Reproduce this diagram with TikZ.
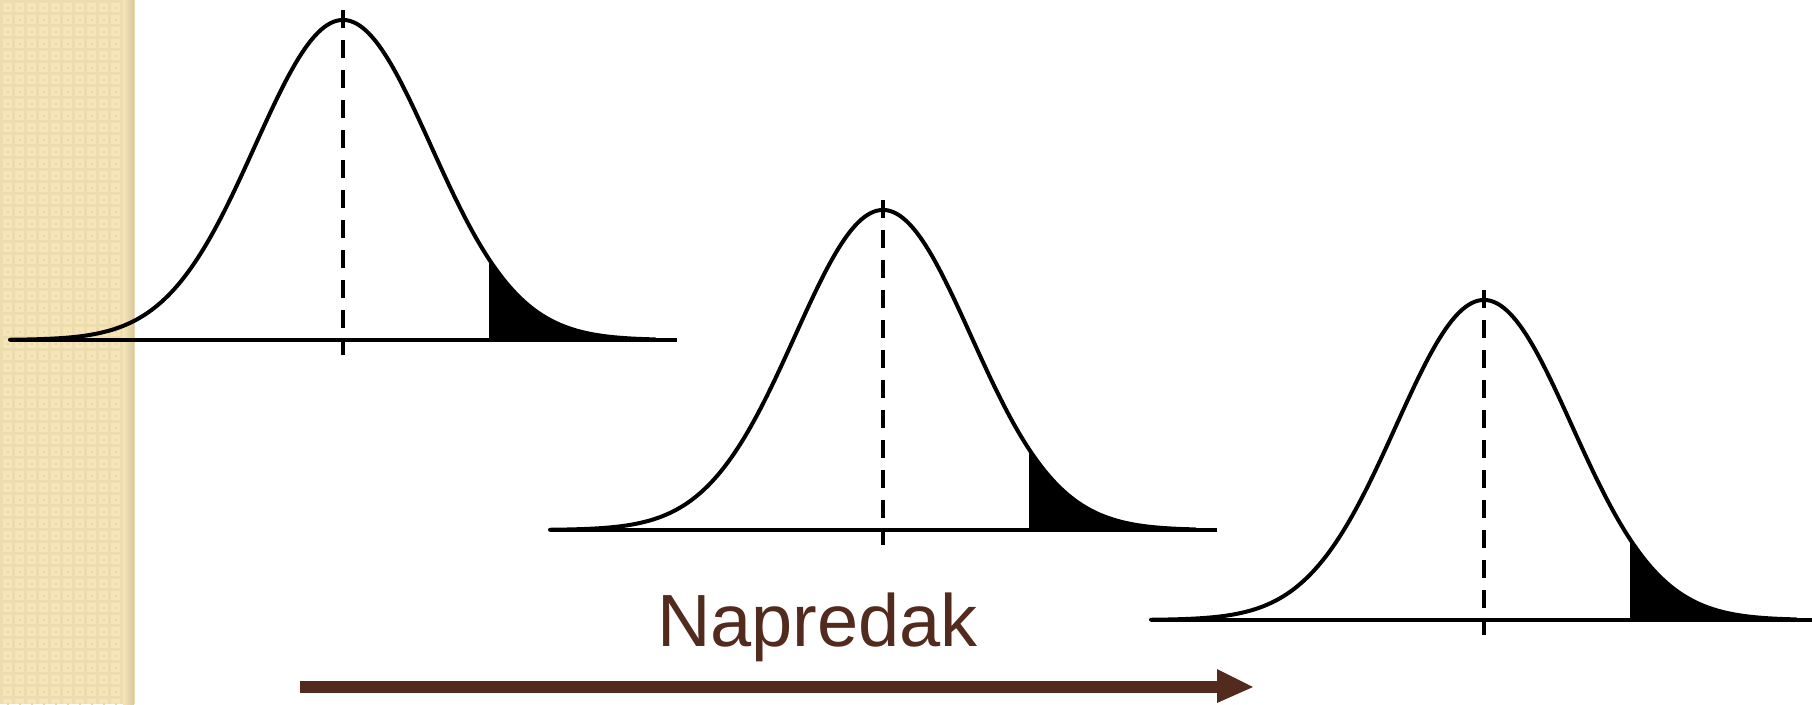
\documentclass[tikz,border=0pt]{standalone}
\usepackage{fontspec}
\setmainfont{Liberation Sans}
\usetikzlibrary{calc}
\definecolor{brownc}{RGB}{83,42,30}
\definecolor{bgbeige}{RGB}{245,229,184}
\definecolor{bgline}{RGB}{236,220,174}
\definecolor{bgdot}{RGB}{232,215,170}
\definecolor{bgshadow}{RGB}{215,200,158}
\tikzset{
  bellcurve/.style={line width=4pt, line cap=round, line join=round},
  baseaxis/.style={line width=3.5pt},
  meanline/.style={line width=3.2pt, dash pattern=on 18pt off 12pt},
  tailfill/.style={fill=black},
  progress/.style={fill=brownc},
  progresslabel/.style={anchor=base west, text=brownc, inner sep=0pt, font=\fontsize{74}{80}\selectfont}
}
\begin{document}
\begin{tikzpicture}[x=1pt,y=-1pt]
\useasboundingbox (0,0) rectangle (1812,704);
\clip (0,0) rectangle (1812,704);
% textured side strip
\fill[bgbeige] (0,0) rectangle (134,704);
\foreach \i in {0,...,11} {
  \fill[bgline] (\i*12,0) rectangle (\i*12+3,704);
}
\foreach \j in {0,...,58} {
  \fill[bgline] (0,\j*12) rectangle (134,\j*12+3);
}
\foreach \i in {0,...,10} {
  \foreach \j in {0,...,58} {
    \fill[bgdot] (\i*12+6.5,\j*12+6.5) rectangle (\i*12+8.5,\j*12+8.5);
  }
}
\shade[left color=bgbeige, right color=bgshadow] (123,0) rectangle (134,704);
% three normal curves
\foreach \mx/\by/\nm in {343/340/a, 883/530/b, 1484/620/c} {
  \coordinate (\nm-mean) at (\mx,\by);
  \fill[tailfill] ($(\nm-mean)+(146,0)$)
     -- plot[domain=146:312, samples=60] ({\mx+\x}, {\by-320*exp(-(\x/88)^2/2)})
     -- ($(\nm-mean)+(312,0)$) -- cycle;
  \draw[baseaxis] ($(\nm-mean)+(-333,0)$) -- ($(\nm-mean)+(334,0)$);
  \draw[bellcurve] plot[domain=-333:312, samples=200] ({\mx+\x}, {\by-320*exp(-(\x/88)^2/2)});
  \draw[meanline] ($(\nm-mean)+(0,-330)$) -- ($(\nm-mean)+(0,15)$);
}
% label and arrow
\node[progresslabel] (lbl) at (657,646.7) {Napredak};
\coordinate (as) at (300,687);
\coordinate (ae) at (1253,687);
\fill[progress] ($(as)+(0,-5.8)$) -- (1217,681.2) -- (1217,669) -- (ae)
   -- (1217,703) -- (1217,692.8) -- ($(as)+(0,5.8)$) -- cycle;
\end{tikzpicture}
\end{document}
